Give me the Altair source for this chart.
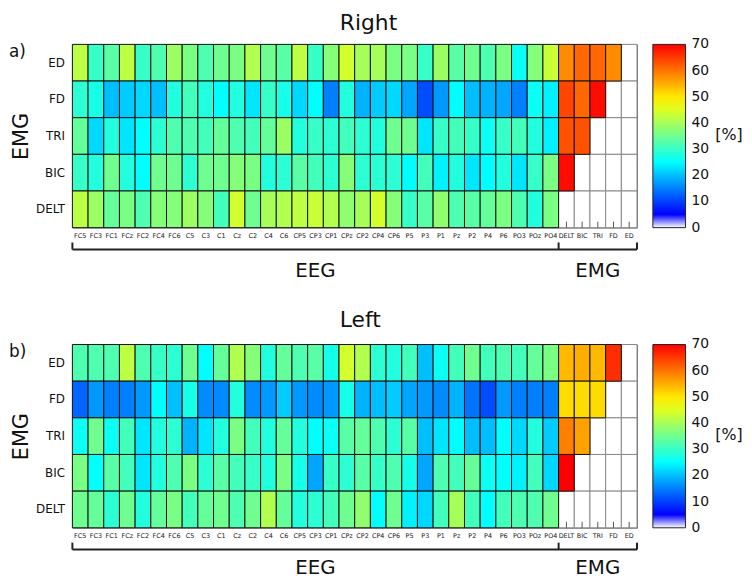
import altair as alt
import pandas as pd

columns = ["FC5","FC3","FC1","FCz","FC2","FC4","FC6","C5","C3","C1","Cz","C2","C4","C6",
           "CP5","CP3","CP1","CPz","CP2","CP4","CP6","P5","P3","P1","Pz","P2","P4","P6",
           "PO3","POz","PO4","DELT","BIC","TRI","FD","ED"]
emg_columns = ["DELT","BIC","TRI","FD","ED"]
rows = ["ED","FD","TRI","BIC","DELT"]
N = None

right_ED   = [42,30,33,42,30,32,39,36,32,35,36,41,35,33,42,30,37,44,40,40,36,36,30,39,33,35,32,36,26,37,43,58,61,61,58,N]
right_FD   = [29,27,20,21,22,20,28,31,28,25,28,23,30,27,22,25,15,28,19,21,22,18,11,17,25,20,19,18,15,26,24,64,61,69,N,N]
right_TRI  = [34,22,28,23,25,29,32,32,31,34,32,31,34,39,28,30,29,31,29,28,35,35,23,30,31,30,26,30,31,28,24,63,63,N,N,N]
right_BIC  = [30,28,35,28,25,35,35,29,35,35,37,36,28,29,33,31,29,37,29,29,29,25,31,24,28,23,25,28,23,30,36,69,N,N,N,N]
right_DELT = [42,39,34,36,32,37,37,39,37,31,44,35,40,41,42,43,41,38,40,44,37,30,33,38,32,33,34,36,32,28,36,N,N,N,N,N]

left_ED   = [32,32,32,42,32,30,29,35,25,34,41,37,28,34,32,33,27,44,41,29,28,31,20,26,31,35,31,32,31,34,36,54,55,54,66,N]
left_FD   = [13,17,15,15,17,25,20,27,16,16,28,16,17,21,17,16,17,27,19,20,21,18,17,16,19,14,11,17,15,15,15,51,51,51,N,N]
left_TRI  = [26,35,26,31,23,28,29,19,23,28,36,31,28,34,28,25,26,33,34,32,29,33,20,23,25,20,20,25,22,28,21,59,56,N,N,N]
left_BIC  = [36,25,33,31,23,28,32,36,29,33,31,30,28,36,27,18,30,29,33,30,32,27,18,32,31,34,26,25,24,31,22,70,N,N,N,N]
left_DELT = [35,34,29,35,28,34,36,31,34,35,32,35,41,34,28,29,31,35,38,25,35,24,22,31,40,31,25,31,32,32,35,N,N,N,N,N]

cbar_ticks = [0,10,20,30,40,50,60,70]
cbar_max = 70

W, H = 570, 185
FONT = "DejaVu Sans"
n_cols = len(columns)
n_eeg = n_cols - len(emg_columns)
cell = W / n_cols
x_split = n_eeg * cell
CB_OFF, CB_W = 16, 33


def make_df(vals):
    recs = []
    for r, lst in zip(rows, vals):
        for c, v in zip(columns, lst):
            recs.append({"row": r, "col": c, "value": v})
    return pd.DataFrame(recs)


one = pd.DataFrame({"k": [0]})
ticks_df = pd.DataFrame({"v": cbar_ticks})

x_enc = alt.X("col:N", sort=columns, scale=alt.Scale(paddingInner=0, paddingOuter=0),
              axis=alt.Axis(title=None, labelAngle=0, labelFontSize=6.5, labelFont=FONT,
                            labelPadding=5, ticks=False, domain=False, labelOverlap=False,
                            labelColor="#222"))
y_enc = alt.Y("row:N", sort=rows, scale=alt.Scale(paddingInner=0, paddingOuter=0),
              axis=alt.Axis(title="EMG", titleFontSize=21, titleFont=FONT,
                            titleFontWeight="normal", titlePadding=4, labelFontSize=12,
                            labelFont=FONT, labelPadding=8, ticks=False, domain=False,
                            labelColor="#111", titleColor="#111"))

color_scale = alt.Scale(domain=[0, 1, 5, 25, 48, 70],
                        range=["#ffffff", "#c8c8ff", "#0000ff", "#00ffff", "#ffff00", "#ff0000"],
                        interpolate="rgb")

cb_y = alt.Y("v:Q", scale=alt.Scale(domain=[0, cbar_max], nice=False, zero=True), axis=None)


def panel(vals, title, letter, title_dy, eeg_dy):
    df = make_df(vals)
    missing = alt.Chart(df).mark_rect(fill="white", stroke="#888", strokeWidth=1).encode(
        x=x_enc, y=y_enc).transform_filter("!isValid(datum.value)")
    cells = alt.Chart(df).mark_rect(stroke="#111", strokeWidth=1).encode(
        x=x_enc, y=y_enc,
        color=alt.Color("value:Q", scale=color_scale,
                        legend=alt.Legend(title=None, labelFontSize=14, labelFont=FONT,
                                          labelExpr="''", values=cbar_ticks,
                                          gradientLength=H, gradientThickness=CB_W,
                                          gradientStrokeColor="#222", gradientStrokeWidth=1,
                                          offset=CB_OFF, direction="vertical", orient="right",
                                          labelOffset=5))
    ).transform_filter("isValid(datum.value)")
    emg_ticks = alt.Chart(pd.DataFrame({"col": emg_columns})).mark_rule(
        color="#555", strokeWidth=1).encode(
        x=alt.X("col:N", sort=columns, bandPosition=0.5),
        y=alt.value(H), y2=alt.value(H - 6))
    line_kw = dict(color="#222", strokeWidth=2)
    hline = alt.Chart(one).mark_rule(**line_kw).encode(
        x=alt.value(0), x2=alt.value(W), y=alt.value(H + 22))
    v0 = alt.Chart(one).mark_rule(**line_kw).encode(
        x=alt.value(0), y=alt.value(H + 15), y2=alt.value(H + 22))
    v1 = alt.Chart(one).mark_rule(**line_kw).encode(
        x=alt.value(x_split), y=alt.value(H + 15), y2=alt.value(H + 22))
    v2 = alt.Chart(one).mark_rule(**line_kw).encode(
        x=alt.value(W), y=alt.value(H + 15), y2=alt.value(H + 22))
    txt_kw = dict(font=FONT, color="#111", baseline="alphabetic")
    eeg = alt.Chart(one).mark_text(fontSize=20, align="center", **txt_kw).encode(
        x=alt.value(x_split / 2), y=alt.value(H + eeg_dy), text=alt.value("EEG"))
    emg = alt.Chart(one).mark_text(fontSize=20, align="center", **txt_kw).encode(
        x=alt.value((x_split + W) / 2), y=alt.value(H + eeg_dy), text=alt.value("EMG"))
    ttl = alt.Chart(one).mark_text(fontSize=22, align="left", **txt_kw).encode(
        x=alt.value(270), y=alt.value(title_dy), text=alt.value(title))
    let = alt.Chart(one).mark_text(fontSize=17, font=FONT, align="left", baseline="middle",
                                   color="#111").encode(
        x=alt.value(-64), y=alt.value(8), text=alt.value(letter))
    unit = alt.Chart(one).mark_text(fontSize=16, font=FONT, align="left", baseline="middle",
                                    color="#111").encode(
        x=alt.value(W + 79), y=alt.value(H / 2 - 1), text=alt.value("[%]"))
    heat = alt.layer(missing, emg_ticks, cells, hline, v0, v1, v2, eeg, emg, ttl, let, unit)

    cb_labels = alt.Chart(ticks_df).mark_text(fontSize=14, font=FONT, align="left",
                                              baseline="middle", color="#111").encode(
        x=alt.value(W + CB_OFF + CB_W + 6), y=cb_y, text=alt.Text("v:Q"))
    cb_marks = alt.Chart(ticks_df).transform_filter(
        f"datum.v > 0 && datum.v < {cbar_max}").mark_rule(color="#222", strokeWidth=1).encode(
        x=alt.value(W + CB_OFF + CB_W - 3), x2=alt.value(W + CB_OFF + CB_W), y=cb_y)
    cbar = alt.layer(cb_labels, cb_marks)

    return alt.layer(heat, cbar).resolve_scale(y="independent").properties(width=W, height=H)


top = panel([right_ED, right_FD, right_TRI, right_BIC, right_DELT], "Right", "a)", -15, 50)
bottom = panel([left_ED, left_FD, left_TRI, left_BIC, left_DELT], "Left", "b)", -18, 47)

chart = alt.vconcat(top, bottom, spacing=26).resolve_scale(
    color="independent").resolve_legend(color="independent").properties(
    padding=0, background="white").configure_view(stroke="#777", strokeWidth=1)

chart.save("out.html", embed_options={"renderer": "svg", "actions": False})
